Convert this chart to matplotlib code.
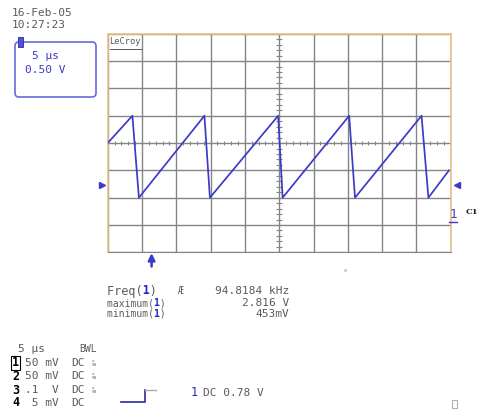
import matplotlib

matplotlib.use("Agg")
import matplotlib.pyplot as plt
import numpy as np
from matplotlib.patches import FancyBboxPatch, Rectangle

# Trace: time in µs (5 µs/div), level in divisions from centre
trace_time_us = [0.0, 3.6, 4.55, 14.1, 14.9, 24.85, 25.5, 35.2, 36.05, 45.75, 46.75, 49.75]
trace_level_div = [0.0, 1.0, -2.0, 1.0, -2.0, 1.0, -2.0, 1.0, -2.0, 1.0, -2.0, -1.0]

time_per_div_us = 5
n_div_x = 10
n_div_y = 8
trigger_level_div = -1.52
trigger_time_us = 6.4

date_lines = ["16-Feb-05", "10:27:23"]
box_lines = ["5 µs", "0.50 V"]

meas_names = ["Freq(", "maximum(", "minimum("]
meas_values = ["94.8184 kHz", "2.816 V", "453mV"]

channels = ["1", "2", "3", "4"]
channel_scales = ["50 mV", "50 mV", ".1  V", " 5 mV"]
channel_coupling = ["DC", "DC", "DC", "DC"]
trigger_text = "DC 0.78 V"

MONO = "DejaVu Sans Mono"
GRAY_TXT = "#5a5a5a"
BLUE = "#3b3bc6"
W, H = 479, 418

fig = plt.figure(figsize=(W / 100, H / 100), dpi=100)

# screen area in pixels
left_px, right_px, top_px, bot_px = 107.7, 450.7, 33.8, 252.3
ax = fig.add_axes([left_px / W, 1 - bot_px / H, (right_px - left_px) / W, (bot_px - top_px) / H])
x_max = n_div_x * time_per_div_us
ax.set_xlim(0, x_max)
ax.set_ylim(-n_div_y / 2, n_div_y / 2)
ax.set_xticks(np.arange(0, x_max + 0.1, time_per_div_us))
ax.set_yticks(np.arange(-n_div_y / 2, n_div_y / 2 + 0.1, 1))
ax.tick_params(length=0, labelbottom=False, labelleft=False)
ax.grid(True, color="#858585", lw=1.0)
for side in ["top", "left", "right"]:
    ax.spines[side].set_color("#eabf86")
    ax.spines[side].set_linewidth(1.2)
ax.spines["bottom"].set_color("#858585")

# minor ticks on the centre axes (0.2 div)
xc = x_max / 2
ax.vlines(np.arange(0, x_max + 0.01, time_per_div_us / 5), -0.08, 0.08, color="#858585", lw=0.8)
ax.hlines(np.arange(-n_div_y / 2, n_div_y / 2 + 0.01, 0.2), xc - 0.4, xc + 0.4, color="#858585", lw=0.8)

ax.plot(trace_time_us, trace_level_div, color=BLUE, lw=1.25, zorder=5)

ax.text(0.004, 0.985, "LeCroy", transform=ax.transAxes, fontsize=6.3, family=MONO,
        color=GRAY_TXT, va="top", ha="left")
ax.plot([0.3, 4.9], [3.45, 3.45], color=GRAY_TXT, lw=0.7)

# trigger markers around the screen
ax.plot([-0.9], [trigger_level_div], marker=">", ms=4, color=BLUE, clip_on=False)
ax.plot([x_max + 0.9], [trigger_level_div], marker="<", ms=4, color=BLUE, clip_on=False)
ax.annotate("", xy=(trigger_time_us, -4.03), xytext=(trigger_time_us, -4.52),
            arrowprops=dict(arrowstyle="-|>", color=BLUE, lw=1.8, mutation_scale=10,
                            shrinkA=0, shrinkB=0),
            annotation_clip=False)

# overlay in pixel coordinates for the text around the screen
ov = fig.add_axes([0, 0, 1, 1], facecolor="none")
ov.set_xlim(0, W)
ov.set_ylim(H, 0)
ov.axis("off")

for i, line in enumerate(date_lines):
    ov.text(12, 13 + 12 * i, line, fontsize=8, family=MONO, color=GRAY_TXT, va="center")

ov.add_patch(FancyBboxPatch((15, 42), 81, 55, boxstyle="round,pad=0,rounding_size=4",
                            fc="white", ec="#6a6ae0", lw=1.2))
ov.add_patch(Rectangle((18, 37), 5, 10, fc="#5050d8", ec="#2a2aa0", lw=0.6))
ov.text(32, 56, box_lines[0], fontsize=8, family=MONO, color=BLUE, va="center")
ov.text(25, 70, box_lines[1], fontsize=8, family=MONO, color=BLUE, va="center")

# channel 1 label at the right edge
ov.text(453, 215, "1", fontsize=9, family=MONO, color=BLUE, va="center", ha="center")
ov.plot([449, 457], [222, 222], color=BLUE, lw=1)
ov.text(466, 212, "C1", fontsize=6, family="DejaVu Serif", weight="bold", color="#222222", va="center")
ov.plot([345], [270], marker="s", ms=1, color="#c8c8c8")

# measurements
meas_rows = [291, 303, 314]
meas_sizes = [8.5, 7.0, 7.0]
for y, name, val, fs in zip(meas_rows, meas_names, meas_values, meas_sizes):
    ov.text(107, y, name + " )", fontsize=fs, family=MONO, color=GRAY_TXT, va="center")
    ov.text(107, y, " " * len(name) + "1 ", fontsize=fs, family=MONO, color="#2323c8",
            weight="bold", va="center")
    ov.text(289, y, val, fontsize=8, family=MONO, color=GRAY_TXT, va="center", ha="right")
ov.text(177, meas_rows[0], "Æ", fontsize=7, family=MONO, color=GRAY_TXT, va="center")

# channel table bottom-left
ov.text(18, 349, "5 µs", fontsize=8, family=MONO, color=GRAY_TXT, va="center")
ov.text(79, 349, "BWL", fontsize=7, family=MONO, color=GRAY_TXT, va="center")
table_rows = [363, 376, 390, 403]
for i, (y, ch, sc, cp) in enumerate(zip(table_rows, channels, channel_scales, channel_coupling)):
    box = dict(boxstyle="square,pad=0.05", fc="white", ec="black", lw=0.8) if i == 0 else None
    ov.text(12, y, ch, fontsize=8.5, family=MONO, weight="bold", color="black", va="center", bbox=box)
    ov.text(25, y, sc, fontsize=8, family=MONO, color=GRAY_TXT, va="center")
    ov.text(71, y, cp, fontsize=8, family=MONO, color=GRAY_TXT, va="center")
    if i < 3:
        ov.text(92, y, "x\n50", fontsize=3.2, family=MONO, color=GRAY_TXT, va="center",
                linespacing=0.9)

# trigger icon and setting
ov.plot([121, 145.5, 145.5], [402, 402, 390], color="#2a2aa0", lw=1.2)
ov.plot([145.5, 156], [390, 390], color="#aaaaaa", lw=1)
ov.text(191, 393, "1", fontsize=8.5, family=MONO, color="#2323c8", va="center")
ov.text(203, 393, trigger_text, fontsize=8, family=MONO, color=GRAY_TXT, va="center")

ov.add_patch(Rectangle((452, 400), 5, 8, fc="none", ec="#b0b0b0", lw=0.8))

fig.savefig("out.png", dpi=100)
